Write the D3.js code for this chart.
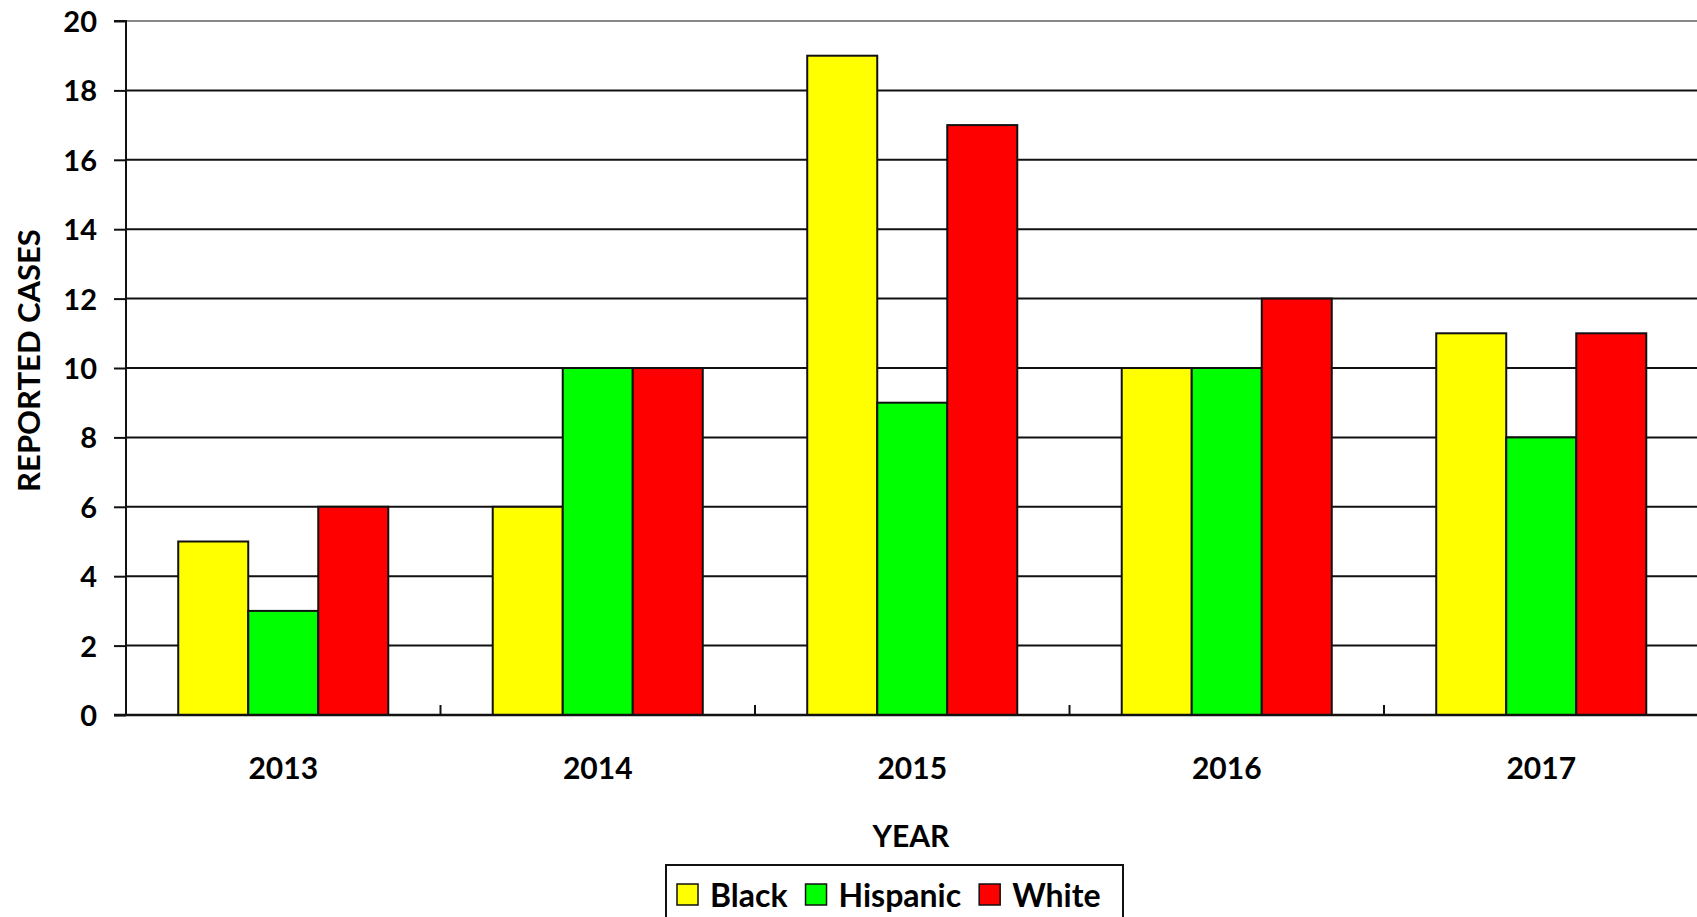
<!DOCTYPE html>
<html>
<head>
<meta charset="utf-8">
<script src="https://cdn.jsdelivr.net/npm/d3@7"></script>
<style>
  html, body { margin: 0; padding: 0; background: #fff; overflow: hidden; }
  svg { display: block; font-family: Lato, "Open Sans", sans-serif; font-weight: bold; }
</style>
</head>
<body>
<svg id="chart" width="1697" height="917"></svg>
<script>
const years = ["2013", "2014", "2015", "2016", "2017"];
const seriesNames = ["Black", "Hispanic", "White"];
const seriesColors = ["#ffff00", "#00ff00", "#ff0000"];
const black = [5, 6, 19, 10, 11];
const hispanic = [3, 10, 9, 10, 8];
const white = [6, 10, 17, 12, 11];
const yTicks = [0, 2, 4, 6, 8, 10, 12, 14, 16, 18, 20];
const xTitle = "YEAR";
const yTitle = "REPORTED CASES";

(function () {
const seriesValues = [black, hispanic, white];
const data = years.map((yr, i) => ({
  year: yr,
  values: seriesNames.map((s, j) => ({ key: s, value: seriesValues[j][i], color: seriesColors[j] }))
}));

const svg = d3.select("#chart");
const mLeft = 126, mRight = 1698.5, mTop = 21, mBottom = 715;

const x0 = d3.scaleBand().domain(years).range([mLeft, mRight]).paddingInner(0).paddingOuter(0);
const x1 = d3.scaleBand().domain(seriesNames).range([0, x0.bandwidth()]).paddingInner(0).paddingOuter(0.746);
const y = d3.scaleLinear().domain([0, 20]).range([mBottom, mTop]);

// gridlines
svg.append("g").selectAll("line").data(yTicks.filter(t => t > 0)).join("line")
  .attr("x1", mLeft).attr("x2", 1697)
  .attr("y1", d => y(d)).attr("y2", d => y(d))
  .attr("stroke", d => d === 20 ? "#888" : "#111")
  .attr("stroke-width", 2);

// bars
const groups = svg.append("g").selectAll("g").data(data).join("g")
  .attr("transform", d => `translate(${x0(d.year)},0)`);
groups.selectAll("rect").data(d => d.values).join("rect")
  .attr("x", d => x1(d.key))
  .attr("y", d => y(d.value))
  .attr("width", x1.bandwidth())
  .attr("height", d => y(0) - y(d.value))
  .attr("fill", d => d.color)
  .attr("stroke", "#111")
  .attr("stroke-width", 2);

// y axis
const yAxis = d3.axisLeft(y).tickValues(yTicks).tickSize(12).tickPadding(17);
const yg = svg.append("g").attr("transform", `translate(${mLeft},0)`).call(yAxis);
yg.select(".domain").attr("stroke", "#111").attr("stroke-width", 2).attr("d", `M-12,${mTop}H0V${mBottom}`);
yg.selectAll(".tick line").attr("stroke", "#111").attr("stroke-width", 2);
yg.selectAll(".tick text").attr("font-size", 29).attr("font-weight", "bold")
  .attr("font-family", "Lato, sans-serif").attr("fill", "#000").attr("dy", "0.36em");

// x axis baseline and separator ticks
const xg = svg.append("g");
xg.append("line").attr("x1", mLeft - 12).attr("x2", 1697).attr("y1", mBottom).attr("y2", mBottom)
  .attr("stroke", "#111").attr("stroke-width", 2.5);
xg.selectAll("line.sep").data(years.slice(1)).join("line").attr("class", "sep")
  .attr("x1", d => x0(d)).attr("x2", d => x0(d))
  .attr("y1", mBottom).attr("y2", mBottom - 10)
  .attr("stroke", "#111").attr("stroke-width", 2);
xg.selectAll("text").data(years).join("text")
  .attr("x", d => x0(d) + x0.bandwidth() / 2)
  .attr("y", 779)
  .attr("text-anchor", "middle")
  .attr("font-size", 30)
  .text(d => d);

// axis titles
svg.append("text").attr("x", 911).attr("y", 846.5).attr("text-anchor", "middle")
  .attr("font-size", 30).text(xTitle);
svg.append("text").attr("transform", "translate(40,360.5) rotate(-90)")
  .attr("text-anchor", "middle").attr("font-size", 31).text(yTitle);

// legend
const lg = svg.append("g");
lg.append("rect").attr("x", 666).attr("y", 865).attr("width", 457).attr("height", 70)
  .attr("fill", "#fff").attr("stroke", "#111").attr("stroke-width", 2);
let lx = 677;
seriesNames.forEach((s, j) => {
  lg.append("rect").attr("x", lx).attr("y", 884).attr("width", 21).attr("height", 21)
    .attr("fill", seriesColors[j]).attr("stroke", "#111").attr("stroke-width", 1.5);
  const t = lg.append("text").attr("x", lx + 33).attr("y", 906.5).attr("font-size", 32).text(s);
  lx = lx + 33 + t.node().getComputedTextLength() + 18;
});
})();
</script>
</body>
</html>
